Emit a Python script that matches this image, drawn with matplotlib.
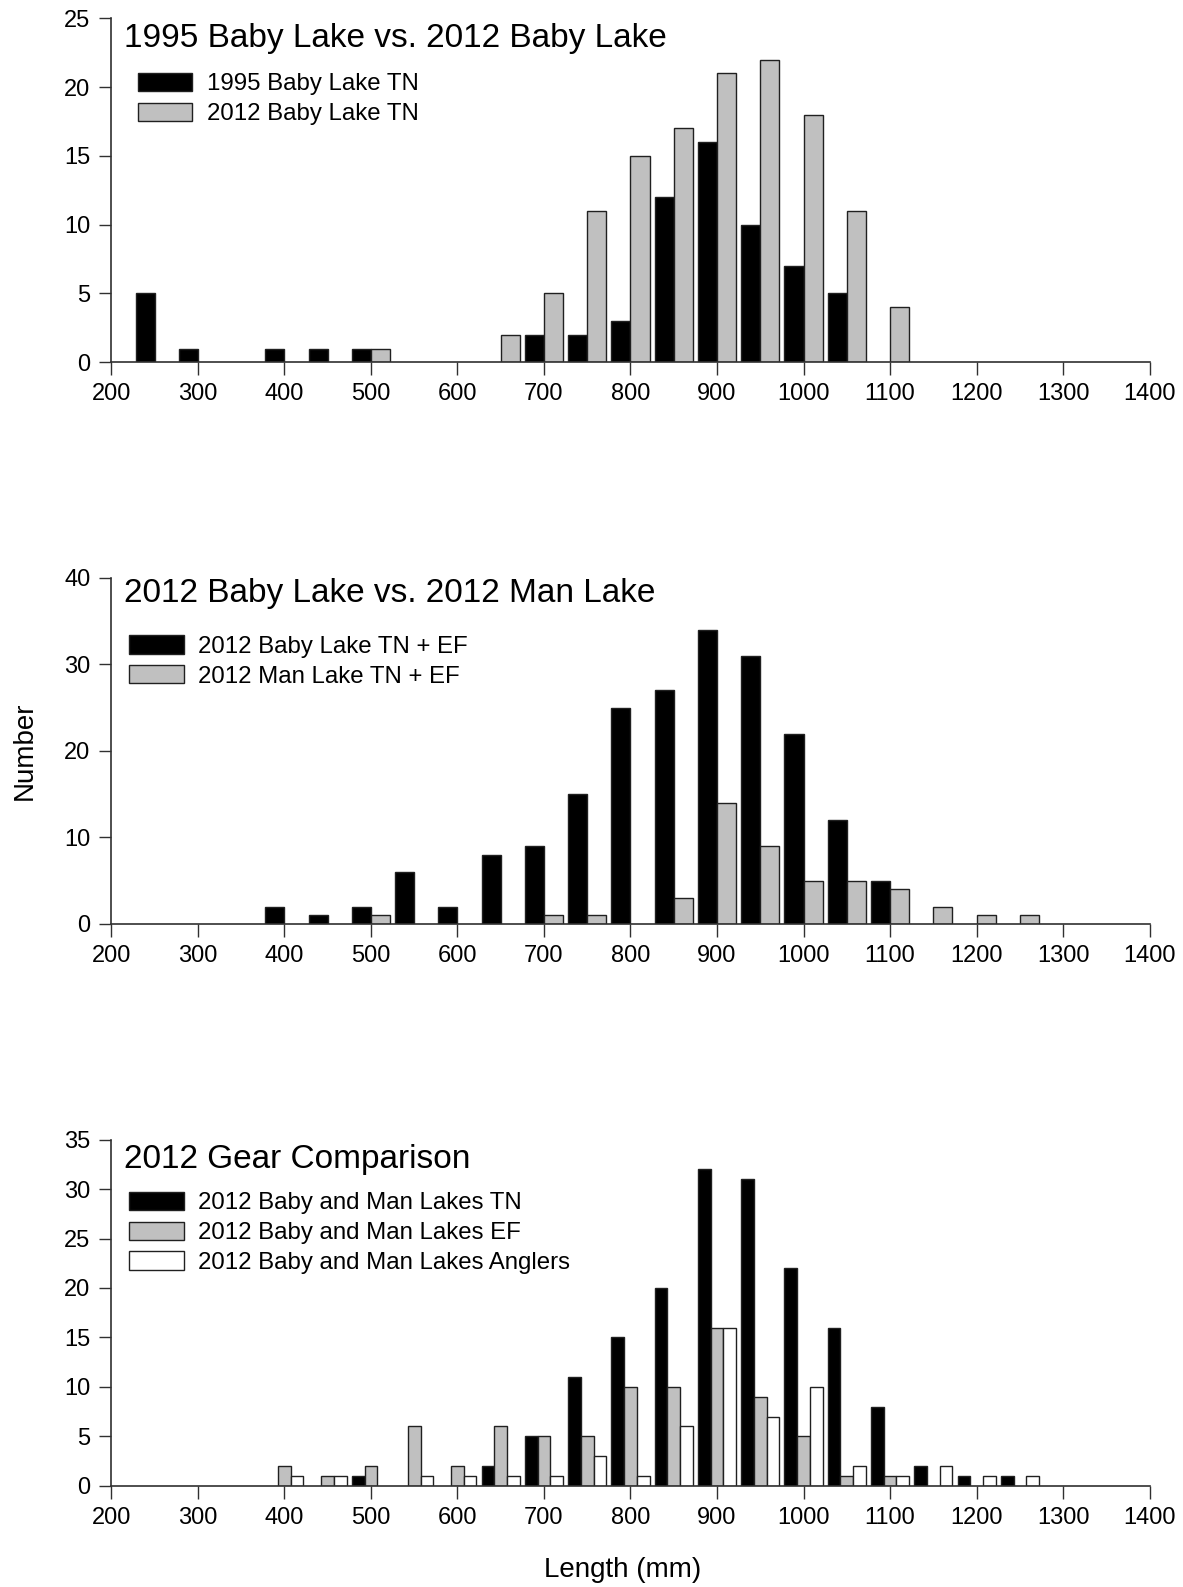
import numpy as np
import matplotlib
matplotlib.use("Agg")
import matplotlib.pyplot as plt

plt.rcParams['font.family'] = ['Liberation Sans', 'DejaVu Sans']

# bin centres (mm)
bins = list(range(250, 1301, 50))

# panel 1
baby1995_tn = {250: 5, 300: 1, 400: 1, 450: 1, 500: 1, 700: 2, 750: 2, 800: 3,
               850: 12, 900: 16, 950: 10, 1000: 7, 1050: 5}
baby2012_tn = {500: 1, 650: 2, 700: 5, 750: 11, 800: 15, 850: 17, 900: 21,
               950: 22, 1000: 18, 1050: 11, 1100: 4}

# panel 2
baby2012_tnef = {400: 2, 450: 1, 500: 2, 550: 6, 600: 2, 650: 8, 700: 9, 750: 15,
                 800: 25, 850: 27, 900: 34, 950: 31, 1000: 22, 1050: 12, 1100: 5}
man2012_tnef = {500: 1, 700: 1, 750: 1, 850: 3, 900: 14, 950: 9, 1000: 5,
                1050: 5, 1100: 4, 1150: 2, 1200: 1, 1250: 1}

# panel 3
gear_tn = {500: 1, 650: 2, 700: 5, 750: 11, 800: 15, 850: 20, 900: 32, 950: 31,
           1000: 22, 1050: 16, 1100: 8, 1150: 2, 1200: 1, 1250: 1}
gear_ef = {400: 2, 450: 1, 500: 2, 550: 6, 600: 2, 650: 6, 700: 5, 750: 5,
           800: 10, 850: 10, 900: 16, 950: 9, 1000: 5, 1050: 1, 1100: 1}
gear_ang = {400: 1, 450: 1, 550: 1, 600: 1, 650: 1, 700: 1, 750: 3, 800: 1,
            850: 6, 900: 16, 950: 7, 1000: 10, 1050: 2, 1100: 1, 1150: 2,
            1200: 1, 1250: 1}

panels = [
    dict(title="1995 Baby Lake vs. 2012 Baby Lake",
         series=[("1995 Baby Lake TN", baby1995_tn), ("2012 Baby Lake TN", baby2012_tn)],
         ymax=25, ystep=5),
    dict(title="2012 Baby Lake vs. 2012 Man Lake",
         series=[("2012 Baby Lake TN + EF", baby2012_tnef), ("2012 Man Lake TN + EF", man2012_tnef)],
         ymax=40, ystep=10),
    dict(title="2012 Gear Comparison",
         series=[("2012 Baby and Man Lakes TN", gear_tn), ("2012 Baby and Man Lakes EF", gear_ef),
                 ("2012 Baby and Man Lakes Anglers", gear_ang)],
         ymax=35, ystep=5),
]

colors = ['black', '#c0c0c0', 'white']
axes_rects = [[0.0941, 0.7717, 0.8777, 0.2168],
              [0.0941, 0.4178, 0.8777, 0.2181],
              [0.0941, 0.0638, 0.8777, 0.2181]]
title_y = [0.942, 0.955, 0.944]
legend_at = [(0.026, 0.841), (0.0175, 0.834), (0.0175, 0.849)]

fig = plt.figure(figsize=(11.83, 15.87), dpi=100)

for p, rect, ty, lpos in zip(panels, axes_rects, title_y, legend_at):
    ax = fig.add_axes(rect)
    n = len(p['series'])
    group = 44.0
    w = group / n
    x = np.array(bins, dtype=float)
    for i, (label, d) in enumerate(p['series']):
        vals = np.array([d.get(b, 0) for b in bins], dtype=float)
        offs = -group / 2 + w * (i + 0.5)
        mask = vals > 0
        ax.bar(x[mask] + offs, vals[mask], width=w, color=colors[i],
               edgecolor='#202020', linewidth=1.0, label=label)
    ax.set_xlim(200, 1400)
    ax.set_ylim(0, p['ymax'])
    ax.set_xticks(range(200, 1401, 100))
    ax.set_yticks(range(0, p['ymax'] + 1, p['ystep']))
    for s in ['top', 'right']:
        ax.spines[s].set_visible(False)
    for s in ['left', 'bottom']:
        ax.spines[s].set_color('#303030')
        ax.spines[s].set_linewidth(1.2)
    ax.tick_params(direction='out', length=9, width=1.0, color='#303030',
                   labelsize=17, pad=6)
    ax.text(0.012, ty, p['title'], transform=ax.transAxes, fontsize=24,
            va='center', ha='left')
    ax.legend(loc='upper left', bbox_to_anchor=lpos, frameon=False,
              fontsize=17.3, handlelength=2.25, handleheight=0.8,
              handletextpad=0.62, labelspacing=0.3, borderpad=0, borderaxespad=0)

fig.text(0.021, 0.527, "Number", rotation=90, fontsize=20, va='center', ha='center')
fig.text(0.526, 0.011, "Length (mm)", fontsize=20, va='center', ha='center')

fig.savefig("out.png", dpi=100)
